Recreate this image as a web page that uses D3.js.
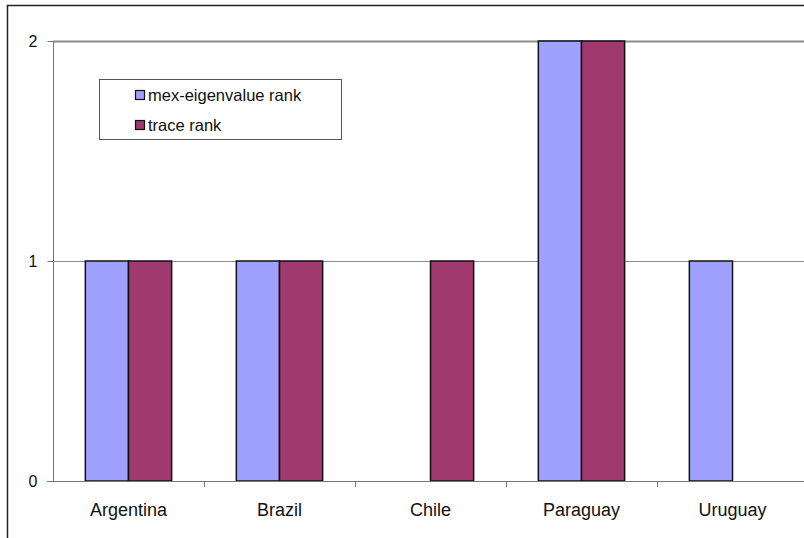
<!DOCTYPE html>
<html>
<head>
<meta charset="utf-8">
<script src="https://cdn.jsdelivr.net/npm/d3@7"></script>
<style>
  html, body { margin: 0; padding: 0; background: #fff; }
  svg { display: block; font-family: "Liberation Sans", Arial, sans-serif; }
</style>
</head>
<body>
<svg id="chart" width="804" height="538"></svg>
<script>
// Cointegration rank per country, by test
const countries = ["Argentina", "Brazil", "Chile", "Paraguay", "Uruguay"];
const seriesNames = ["mex-eigenvalue rank", "trace rank"];
const maxEigenRank = [1, 1, 0, 2, 1];
const traceRank = [1, 1, 1, 2, 0];
const yTicks = [0, 1, 2];
const colors = ["#a0a0ff", "#a03a6e"];

const svg = d3.select("#chart");
const W = 804, H = 538;
const FONT = "Liberation Sans, Arial, sans-serif";

// outer frame
svg.append("rect").attr("x", 7.5).attr("y", 5.5).attr("width", W + 10).attr("height", H + 10)
  .attr("fill", "none").attr("stroke", "#222").attr("stroke-width", 1.5);

const plot = { left: 53, top: 41, right: 808, bottom: 481 };

const x0 = d3.scaleBand().domain(countries).range([plot.left, plot.right]).paddingInner(0).paddingOuter(0);
const x1 = d3.scaleBand().domain(seriesNames).range([0, x0.bandwidth()]).paddingInner(0).paddingOuter(0.75);
const y = d3.scaleLinear().domain([0, 2]).range([plot.bottom, plot.top]);

// gridlines
svg.append("g").selectAll("line").data(yTicks.filter(d => d > 0)).join("line")
  .attr("x1", plot.left).attr("x2", W)
  .attr("y1", d => Math.round(y(d)) + 0.5).attr("y2", d => Math.round(y(d)) + 0.5)
  .attr("stroke", "#8c8c8c").attr("stroke-width", d => d === 2 ? 2 : 1);

// bars
const rows = countries.map((c, i) => ({ country: c, values: [maxEigenRank[i], traceRank[i]] }));
const groups = svg.append("g").selectAll("g").data(rows).join("g")
  .attr("transform", d => `translate(${x0(d.country)},0)`);
groups.selectAll("rect")
  .data(d => d.values.map((v, j) => ({ key: seriesNames[j], value: v, j })).filter(d => d.value > 0))
  .join("rect")
  .attr("x", d => x1(d.key))
  .attr("y", d => y(d.value))
  .attr("width", x1.bandwidth())
  .attr("height", d => y(0) - y(d.value))
  .attr("fill", d => colors[d.j])
  .attr("stroke", "#111").attr("stroke-width", 1.5);

// y axis
const yAxis = d3.axisLeft(y).tickValues(yTicks).tickFormat(d3.format("d")).tickSize(6).tickPadding(10);
const gy = svg.append("g").attr("transform", `translate(${plot.left + 0.5},0)`).call(yAxis);
gy.select(".domain").attr("stroke", "#777").attr("d", `M0,${plot.top}V${plot.bottom}`);
gy.selectAll(".tick line").attr("stroke", "#777");
gy.selectAll(".tick text").attr("font-size", 16).attr("fill", "#111").attr("font-family", FONT);

// x axis
const xAxis = d3.axisBottom(x0).tickSize(0).tickPadding(22);
const gx = svg.append("g").attr("transform", `translate(0,${plot.bottom + 0.5})`).call(xAxis);
gx.select(".domain").attr("stroke", "#777").attr("d", `M${plot.left - 6},0H${W}`);
gx.selectAll(".tick text").attr("font-size", 18).attr("fill", "#111").attr("font-family", FONT);
// category separators
svg.append("g").selectAll("line").data(countries.slice(1)).join("line")
  .attr("x1", d => Math.round(x0(d)) + 0.5).attr("x2", d => Math.round(x0(d)) + 0.5)
  .attr("y1", plot.bottom).attr("y2", plot.bottom + 6)
  .attr("stroke", "#777");

// legend
const lg = svg.append("g").attr("transform", "translate(99.5,79.5)");
lg.append("rect").attr("width", 242).attr("height", 60)
  .attr("fill", "#fff").attr("stroke", "#555").attr("stroke-width", 1);
seriesNames.forEach((name, i) => {
  const cy = 16 + i * 30;
  lg.append("rect").attr("x", 36).attr("y", cy - 5).attr("width", 9).attr("height", 9)
    .attr("fill", colors[i]).attr("stroke", "#111").attr("stroke-width", 1.2);
  lg.append("text").attr("x", 48.5).attr("y", cy).attr("dy", "0.35em")
    .attr("font-size", 16.5).attr("fill", "#111").attr("font-family", FONT).text(name);
});
</script>
</body>
</html>
